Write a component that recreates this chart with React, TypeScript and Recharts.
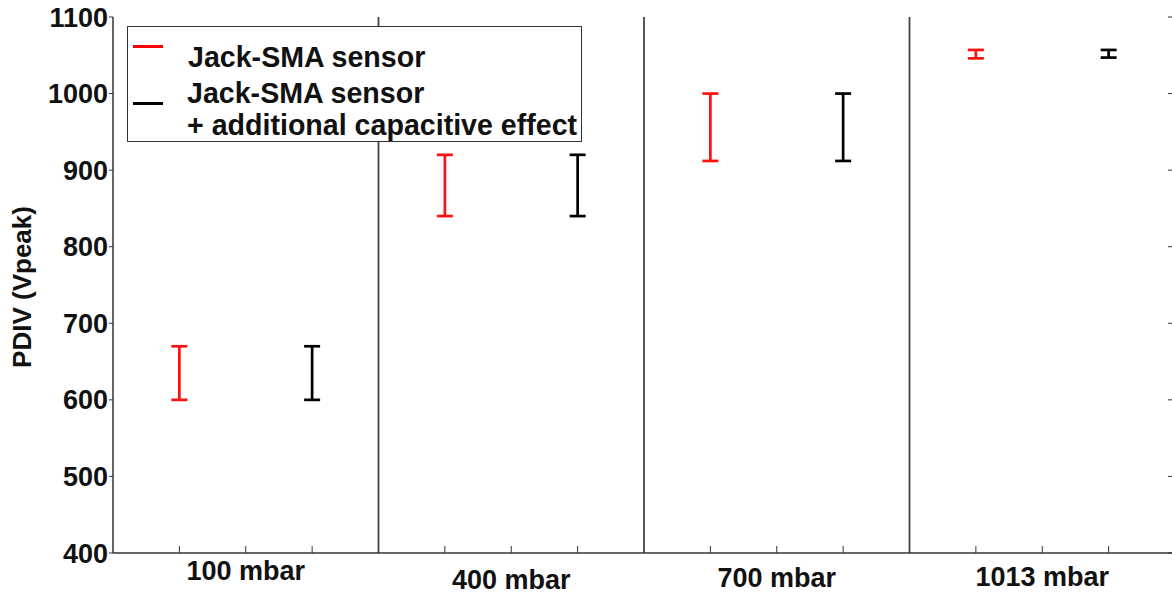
import React from 'react';
import { ComposedChart, Scatter, ErrorBar, XAxis, YAxis, ReferenceLine, Legend, Label } from 'recharts';

const categories = ['100 mbar', '400 mbar', '700 mbar', '1013 mbar'];
const seriesNames = ['Jack-SMA sensor', 'Jack-SMA sensor', '+ additional capacitive effect'];
const redLow = [600, 840, 912, 1046];
const redHigh = [670, 920, 1000, 1057];
const blackLow = [600, 840, 912, 1047];
const blackHigh = [670, 920, 1000, 1057];
const yTicks = [400, 500, 600, 700, 800, 900, 1000, 1100];
const xTickPositions = [1, 2, 3, 5, 6, 7, 9, 10, 11, 13, 14, 15];
const dividers = [4, 8, 12];

const FONT = '"Liberation Sans", Arial, sans-serif';
const AXIS = '#333';

const build = (lo: number[], hi: number[], offset: number) =>
  categories.map((c, i) => {
    const mid = (lo[i] + hi[i]) / 2;
    return { name: c, x: 4 * i + offset, y: mid, err: [mid - lo[i], hi[i] - mid] };
  });

const redData = build(redLow, redHigh, 1);
const blackData = build(blackLow, blackHigh, 3);

const labelDy = [0, 9, 7, 6];

const BottomTick = (props: any) => {
  const { x, y, payload } = props;
  const v = payload.value;
  const idx = [2, 6, 10, 14].indexOf(v);
  return (
    <g>
      <line x1={x} x2={x} y1={y} y2={y - 7} stroke={AXIS} strokeWidth={1} />
      {idx >= 0 && (
        <text x={x} y={y + 18 + labelDy[idx]} textAnchor="middle" dominantBaseline="central"
          fontFamily={FONT} fontWeight="bold" fontSize={27} fill="#111">
          {categories[idx]}
        </text>
      )}
    </g>
  );
};

const TopTick = (props: any) => {
  const { x, y } = props;
  return <line x1={x} x2={x} y1={y} y2={y + 7} stroke={AXIS} strokeWidth={1} />;
};

const RightTick = (props: any) => {
  const { x, y } = props;
  return <line x1={x} x2={x - 7} y1={y} y2={y} stroke={AXIS} strokeWidth={1} />;
};

const LegendBox = () => (
  <div style={{ position: 'relative', width: 455, height: 116, border: '1px solid #333', boxSizing: 'border-box', background: '#fff', fontFamily: FONT, fontWeight: 'bold', fontSize: 28.6, color: '#111', lineHeight: '28px' }}>
    <div style={{ position: 'absolute', left: 5, top: 17.5, width: 30, height: 3, background: '#ff0000' }} />
    <div style={{ position: 'absolute', left: 60, top: 16, whiteSpace: 'nowrap' }}>{seriesNames[0]}</div>
    <div style={{ position: 'absolute', left: 5, top: 74.5, width: 30, height: 3, background: '#000' }} />
    <div style={{ position: 'absolute', left: 59, top: 52, whiteSpace: 'nowrap' }}>{seriesNames[1]}</div>
    <div style={{ position: 'absolute', left: 59, top: 84, whiteSpace: 'nowrap' }}>{seriesNames[2]}</div>
  </div>
);

export default function App() {
  return (
    <div style={{ position: 'absolute', left: 0, top: 0, width: 1172, height: 595, overflow: 'hidden', background: '#fff' }}>
      <ComposedChart width={1190} height={595} margin={{ top: 17, right: 0, bottom: 0, left: 43 }}>
        <XAxis xAxisId="bottom" type="number" dataKey="x" domain={[0, 16]} ticks={xTickPositions}
          allowDataOverflow interval={0} tickSize={0} tickMargin={0} tickLine={false}
          axisLine={{ stroke: AXIS, strokeWidth: 1.5 }} tick={<BottomTick />} height={42} />
        <XAxis xAxisId="top" orientation="top" type="number" dataKey="x" domain={[0, 16]} ticks={xTickPositions}
          allowDataOverflow interval={0} tickSize={0} tickMargin={0} tickLine={false}
          axisLine={{ stroke: AXIS, strokeWidth: 1.5 }} tick={<TopTick />} height={0} />
        <YAxis yAxisId="left" type="number" domain={[400, 1100]} ticks={yTicks} allowDataOverflow interval={0}
          width={70} tickSize={4} tickMargin={1} axisLine={{ stroke: AXIS, strokeWidth: 1.5 }}
          tickLine={{ stroke: AXIS }}
          tick={{ fontFamily: FONT, fontWeight: 'bold', fontSize: 27, fill: '#111' }}>
          <Label content={() => (
            <text x={22} y={287} transform="rotate(-90 22 287)" textAnchor="middle" dominantBaseline="central"
              fontFamily={FONT} fontWeight="bold" fontSize={26} fill="#111">PDIV (Vpeak)</text>
          )} />
        </YAxis>
        <YAxis yAxisId="right" orientation="right" type="number" domain={[400, 1100]} ticks={yTicks}
          allowDataOverflow interval={0} width={15} tickSize={0} tickMargin={0} tickLine={false}
          axisLine={{ stroke: AXIS, strokeWidth: 1.5 }} tick={<RightTick />} />
        {dividers.map((d) => (
          <ReferenceLine key={d} xAxisId="bottom" yAxisId="left" x={d} stroke="#444" strokeWidth={1.8} />
        ))}
        <Scatter name="red" data={redData} dataKey="y" xAxisId="bottom" yAxisId="left"
          isAnimationActive={false} shape={() => <g />} legendType="none">
          <ErrorBar dataKey="err" direction="y" width={8} stroke="#ff1010" strokeWidth={2.7} isAnimationActive={false} />
        </Scatter>
        <Scatter name="black" data={blackData} dataKey="y" xAxisId="bottom" yAxisId="left"
          isAnimationActive={false} shape={() => <g />} legendType="none">
          <ErrorBar dataKey="err" direction="y" width={8} stroke="#000" strokeWidth={2.7} isAnimationActive={false} />
        </Scatter>
        <Legend layout="horizontal" verticalAlign="middle" align="center" content={() => <LegendBox />}
          wrapperStyle={{ position: 'absolute', left: 127, top: 26, width: 455, height: 116 }} />
      </ComposedChart>
    </div>
  );
}
